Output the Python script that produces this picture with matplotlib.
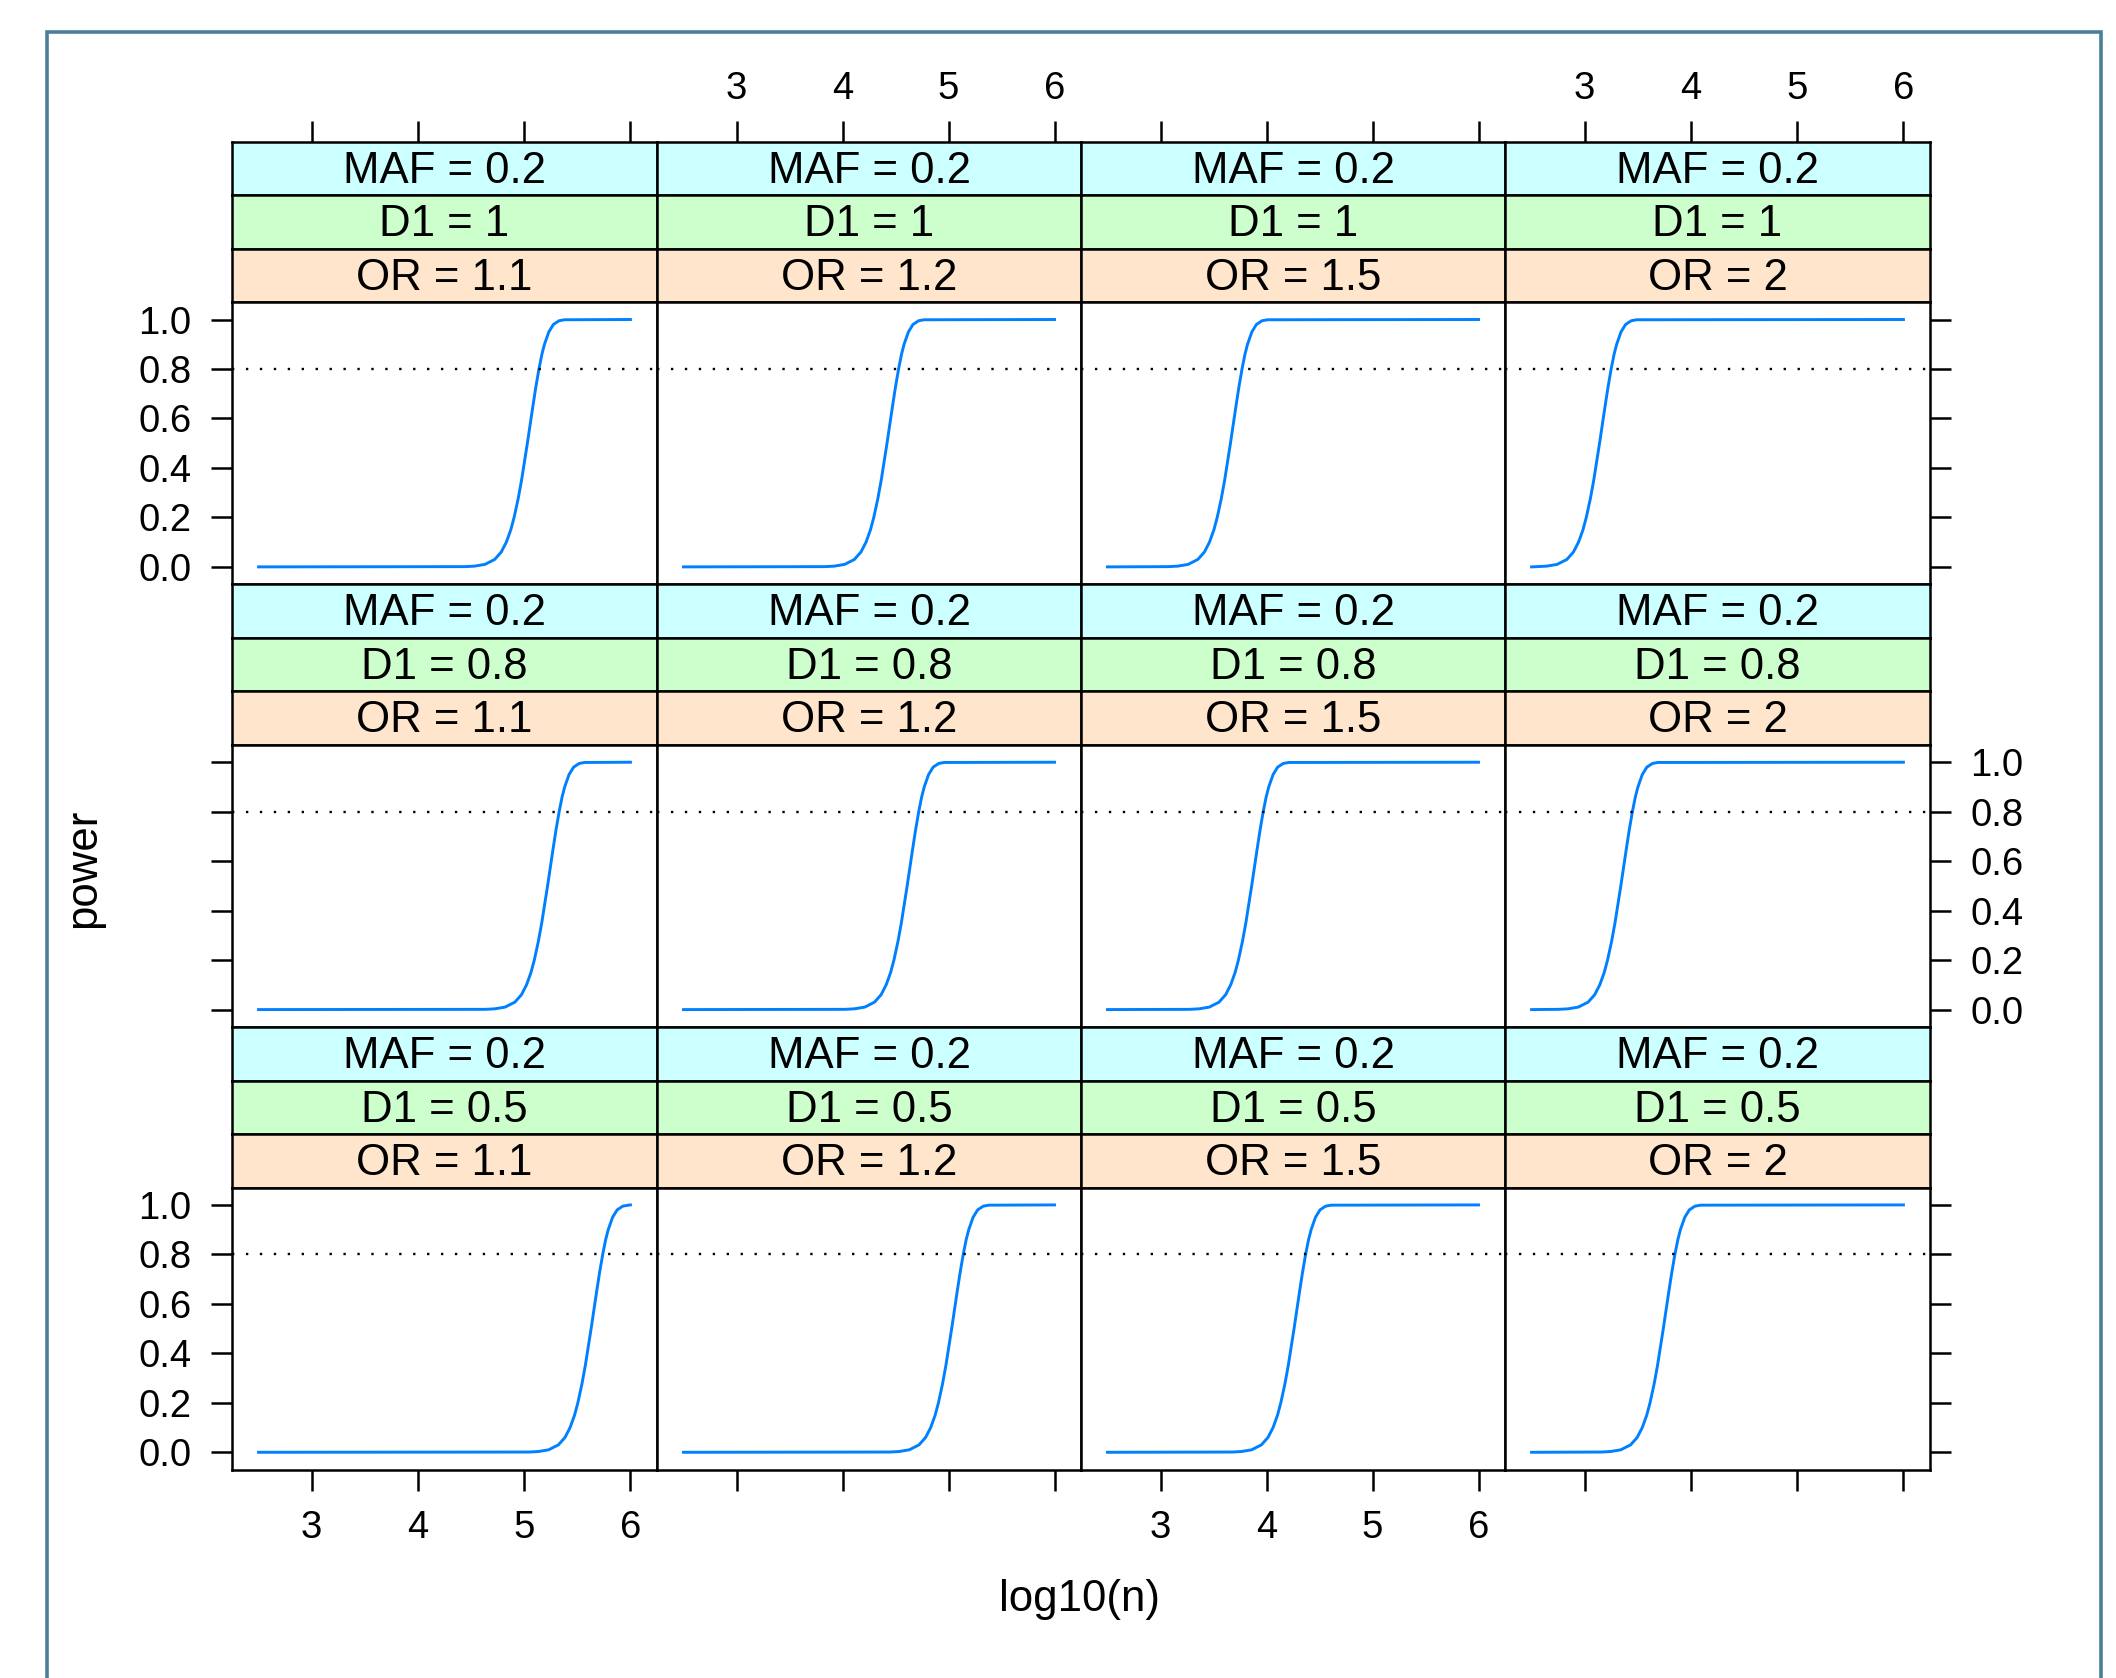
import matplotlib
matplotlib.use("Agg")
import matplotlib.pyplot as plt
from matplotlib.patches import Rectangle

plt.rcParams['font.family'] = ['Liberation Sans', 'DejaVu Sans']

# strip labels
maf_labels = ["MAF = 0.2", "MAF = 0.2", "MAF = 0.2", "MAF = 0.2"]
or_labels = ["OR = 1.1", "OR = 1.2", "OR = 1.5", "OR = 2"]
d1_labels = ["D1 = 1", "D1 = 0.8", "D1 = 0.5"]

x_ticks = [3, 4, 5, 6]
y_ticks = [0.0, 0.2, 0.4, 0.6, 0.8, 1.0]
power_target = 0.8

# power levels
power_levels = [0.0, 0.001, 0.003, 0.01, 0.03, 0.06, 0.1, 0.15, 0.2, 0.275, 0.35,
                0.5, 0.65, 0.725, 0.8, 0.86, 0.9, 0.95, 0.98, 0.995, 0.999, 1.0]

# log10(n) at which each power level is reached, one list per OR (1.1, 1.2, 1.5, 2)
log10n_d1_1 = [
    [2.5, 4.444, 4.532, 4.630, 4.722, 4.784, 4.832, 4.874, 4.905, 4.943, 4.975,
     5.030, 5.082, 5.109, 5.139, 5.167, 5.191, 5.232, 5.275, 5.328, 5.380, 6.0],
    [2.5, 3.834, 3.922, 4.020, 4.112, 4.174, 4.222, 4.264, 4.295, 4.333, 4.365,
     4.420, 4.472, 4.499, 4.529, 4.557, 4.581, 4.622, 4.665, 4.718, 4.770, 6.0],
    [2.5, 3.074, 3.162, 3.260, 3.352, 3.414, 3.462, 3.504, 3.535, 3.573, 3.605,
     3.660, 3.712, 3.739, 3.769, 3.797, 3.821, 3.862, 3.905, 3.958, 4.010, 6.0],
    [2.5, 2.554, 2.642, 2.740, 2.832, 2.894, 2.942, 2.984, 3.015, 3.053, 3.085,
     3.140, 3.192, 3.219, 3.249, 3.277, 3.301, 3.342, 3.385, 3.438, 3.490, 6.0],
]
log10n_d1_08 = [
    [2.5, 4.634, 4.722, 4.820, 4.912, 4.974, 5.022, 5.064, 5.095, 5.133, 5.165,
     5.220, 5.272, 5.299, 5.329, 5.357, 5.381, 5.422, 5.465, 5.518, 5.570, 6.0],
    [2.5, 4.024, 4.112, 4.210, 4.302, 4.364, 4.412, 4.454, 4.485, 4.523, 4.555,
     4.610, 4.662, 4.689, 4.719, 4.747, 4.771, 4.812, 4.855, 4.908, 4.960, 6.0],
    [2.5, 3.274, 3.362, 3.460, 3.552, 3.614, 3.662, 3.704, 3.735, 3.773, 3.805,
     3.860, 3.912, 3.939, 3.969, 3.997, 4.021, 4.062, 4.105, 4.158, 4.210, 6.0],
    [2.5, 2.754, 2.842, 2.940, 3.032, 3.094, 3.142, 3.184, 3.215, 3.253, 3.285,
     3.340, 3.392, 3.419, 3.449, 3.477, 3.501, 3.542, 3.585, 3.638, 3.690, 6.0],
]
log10n_d1_05 = [
    [2.5, 5.044, 5.132, 5.230, 5.322, 5.384, 5.432, 5.474, 5.505, 5.543, 5.575,
     5.630, 5.682, 5.709, 5.739, 5.767, 5.791, 5.832, 5.875, 5.928, 5.980, 6.0],
    [2.5, 4.444, 4.532, 4.630, 4.722, 4.784, 4.832, 4.874, 4.905, 4.943, 4.975,
     5.030, 5.082, 5.109, 5.139, 5.167, 5.191, 5.232, 5.275, 5.328, 5.380, 6.0],
    [2.5, 3.674, 3.762, 3.860, 3.952, 4.014, 4.062, 4.104, 4.135, 4.173, 4.205,
     4.260, 4.312, 4.339, 4.369, 4.397, 4.421, 4.462, 4.505, 4.558, 4.610, 6.0],
    [2.5, 3.154, 3.242, 3.340, 3.432, 3.494, 3.542, 3.584, 3.615, 3.653, 3.685,
     3.740, 3.792, 3.819, 3.849, 3.877, 3.901, 3.942, 3.985, 4.038, 4.090, 6.0],
]
rows = [log10n_d1_1, log10n_d1_08, log10n_d1_05]

W, H = 2116, 1678
fig = plt.figure(figsize=(W / 100, H / 100), dpi=100)


def box(x0, y0, x1, y1):
    return [x0 / W, 1 - y1 / H, (x1 - x0) / W, (y1 - y0) / H]


col_edges = [232, 657, 1081, 1505, 1930]
row_top = 141.7
row_pitch = 442.7
strip_h = 53.5
panel_h = 282.0

strip_cols = ["#ccffff", "#ccffcc", "#ffe5cc"]
line_col = "#0080ff"
lw = 1.8
tick_kw = dict(direction='out', length=15, width=lw, pad=14, labelsize=27.5)

for r in range(3):
    top = row_top + r * row_pitch
    for c in range(4):
        x0, x1 = col_edges[c], col_edges[c + 1]
        texts = [maf_labels[c], d1_labels[r], or_labels[c]]
        for k in range(3):
            sax = fig.add_axes(box(x0, top + k * strip_h, x1, top + (k + 1) * strip_h))
            sax.set_facecolor(strip_cols[k])
            sax.set_xlim(2.25, 6.25)
            sax.set_ylim(0, 1)
            sax.set_yticks([])
            for s in sax.spines.values():
                s.set_linewidth(lw)
            sax.text(0.5, 0.45, texts[k], ha='center', va='center', fontsize=31.5,
                     transform=sax.transAxes)
            if r == 0 and k == 0:
                sax.xaxis.tick_top()
                sax.set_xticks(x_ticks)
                sax.tick_params(axis='x', **tick_kw)
                sax.tick_params(axis='x', pad=10)
                if c % 2 == 1:
                    sax.set_xticklabels([str(t) for t in x_ticks])
                else:
                    sax.set_xticklabels([])
            else:
                sax.set_xticks([])

        py0 = top + 3 * strip_h
        ax = fig.add_axes(box(x0, py0, x1, py0 + panel_h))
        ax.plot(rows[r][c], power_levels, color=line_col, lw=2.1)
        ax.axhline(power_target, color='black', lw=1.7, linestyle=(0, (1, 4.9)))
        ax.set_xlim(2.25, 6.25)
        ax.set_ylim(-0.07, 1.07)
        for s in ax.spines.values():
            s.set_linewidth(lw)

        # x axis: only on the bottom row
        if r == 2:
            ax.set_xticks(x_ticks)
            ax.tick_params(axis='x', **tick_kw)
            if c % 2 == 0:
                ax.set_xticklabels([str(t) for t in x_ticks])
            else:
                ax.set_xticklabels([])
        else:
            ax.set_xticks([])

        # y axis: left column and right column, alternating labels
        if c == 0:
            ax.set_yticks(y_ticks)
            ax.tick_params(axis='y', left=True, right=False, **tick_kw)
            if r % 2 == 0:
                ax.set_yticklabels([f"{v:.1f}" for v in y_ticks])
            else:
                ax.set_yticklabels([])
        elif c == 3:
            ax.set_yticks(y_ticks)
            ax.yaxis.tick_right()
            ax.tick_params(axis='y', **tick_kw)
            if r == 1:
                ax.set_yticklabels([f"{v:.1f}" for v in y_ticks])
            else:
                ax.set_yticklabels([])
        else:
            ax.set_yticks([])

fig.text(1080 / W, 1 - 1599 / H, "log10(n)", ha='center', va='center', fontsize=31.5)
fig.text(84 / W, 1 - 868 / H, "power", ha='center', va='center', fontsize=31.5, rotation=90)

fig.patches.append(Rectangle((47 / W, -0.05), (2101 - 47) / W, 1 - 32 / H + 0.05,
                             transform=fig.transFigure, fill=False,
                             edgecolor='#4a7f9a', linewidth=2.6))

fig.savefig("out.png", dpi=100)
